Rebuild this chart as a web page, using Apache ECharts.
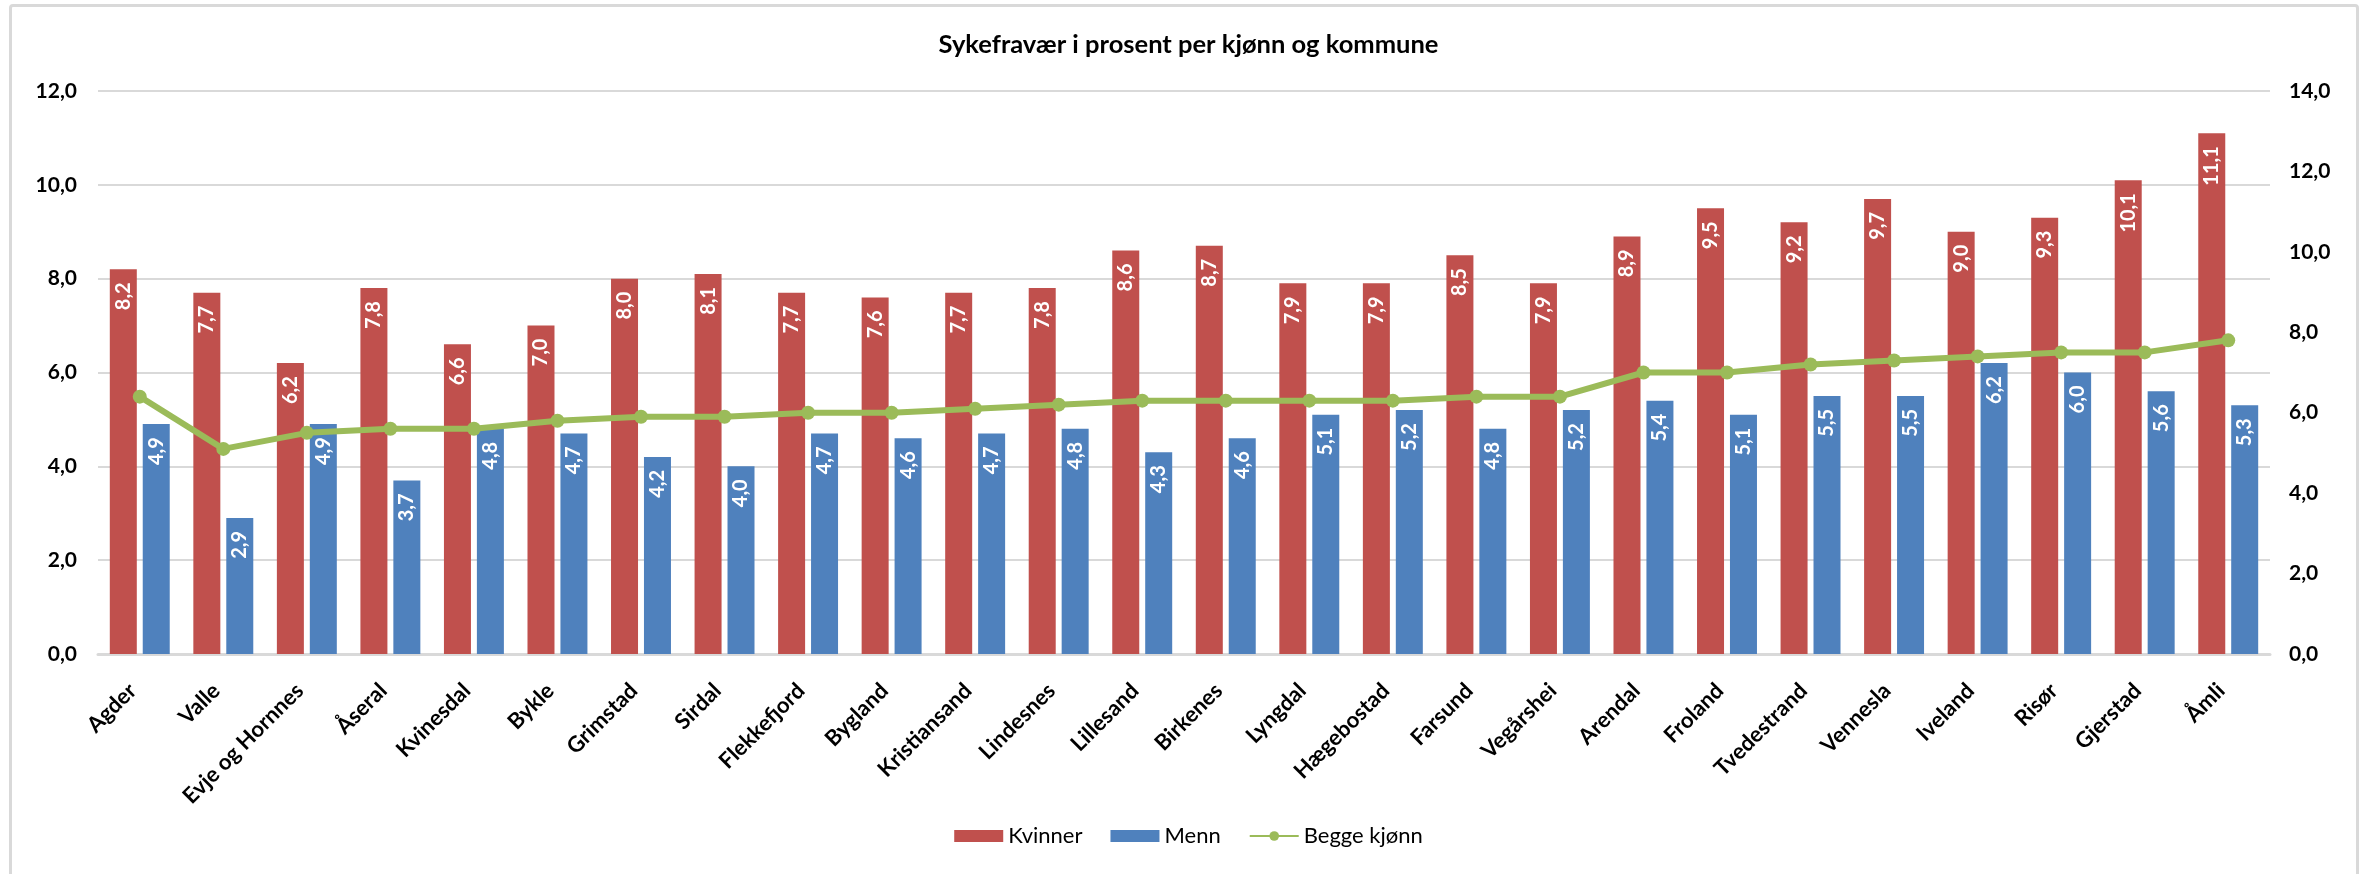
<!DOCTYPE html>
<html>
<head>
<meta charset="utf-8">
<script src="https://cdn.jsdelivr.net/npm/echarts@6/dist/echarts.min.js"></script>
<style>
    html, body { margin: 0; padding: 0; background: #fff; }
    #frame {
        position: absolute; left: 9px; top: 4px; width: 2350px; height: 880px;
        border: 3px solid #d9d9d9; border-radius: 4px; box-sizing: border-box;
    }
    #chart { position: absolute; left: 0; top: 0; width: 2377px; height: 874px; }
</style>
</head>
<body>
<div id="frame"></div>
<div id="chart"></div>
<script>
// data ==========================================
const kommuner = ['Agder', 'Valle', 'Evje og Hornnes', 'Åseral', 'Kvinesdal', 'Bykle', 'Grimstad', 'Sirdal',
    'Flekkefjord', 'Bygland', 'Kristiansand', 'Lindesnes', 'Lillesand', 'Birkenes', 'Lyngdal', 'Hægebostad',
    'Farsund', 'Vegårshei', 'Arendal', 'Froland', 'Tvedestrand', 'Vennesla', 'Iveland', 'Risør', 'Gjerstad', 'Åmli'];
const kvinner = [8.2, 7.7, 6.2, 7.8, 6.6, 7.0, 8.0, 8.1, 7.7, 7.6, 7.7, 7.8, 8.6, 8.7, 7.9, 7.9, 8.5, 7.9,
    8.9, 9.5, 9.2, 9.7, 9.0, 9.3, 10.1, 11.1];
const menn = [4.9, 2.9, 4.9, 3.7, 4.8, 4.7, 4.2, 4.0, 4.7, 4.6, 4.7, 4.8, 4.3, 4.6, 5.1, 5.2, 4.8, 5.2,
    5.4, 5.1, 5.5, 5.5, 6.2, 6.0, 5.6, 5.3];
const beggeKjonn = [6.4, 5.1, 5.5, 5.6, 5.6, 5.8, 5.9, 5.9, 6.0, 6.0, 6.1, 6.2, 6.3, 6.3, 6.3, 6.3, 6.4, 6.4,
    7.0, 7.0, 7.2, 7.3, 7.4, 7.5, 7.5, 7.8];

const FONT = 'Lato, "Open Sans", sans-serif';
const fmt = v => (typeof v === 'object' ? v.value : v).toFixed(1).replace('.', ',');

// etikett inne i søylen, rotert
function barLabel() {
    return {
        show: true,
        position: 'insideTop',
        rotate: 90,
        align: 'right',
        verticalAlign: 'middle',
        distance: 13,
        color: '#fff',
        fontFamily: FONT,
        fontWeight: 'bold',
        fontSize: 20,
        formatter: p => fmt(p.value)
    };
}

const chart = echarts.init(document.getElementById('chart'));
chart.setOption({
    animation: false,
    title: {
        text: 'Sykefravær i prosent per kjønn og kommune',
        left: 'center',
        top: 27,
        textStyle: { fontFamily: FONT, fontWeight: 'bold', fontSize: 25.5, color: '#000' }
    },
    legend: {
        bottom: 22,
        left: 'center',
        itemWidth: 49,
        itemHeight: 12,
        itemGap: 28,
        textStyle: { fontFamily: FONT, fontSize: 22, color: '#000' },
        data: [
            { name: 'Kvinner', icon: 'rect' },
            { name: 'Menn', icon: 'rect' },
            { name: 'Begge kjønn' }
        ]
    },
    grid: { left: 98, right: 107, top: 91, bottom: 220 },
    xAxis: {
        type: 'category',
        data: kommuner,
        axisTick: { show: false },
        axisLine: { lineStyle: { color: '#d9d9d9', width: 3 } },
        axisLabel: {
            interval: 0,
            rotate: 45,
            margin: 26,
            padding: [0, 10, 0, 0],
            color: '#000',
            fontFamily: FONT,
            fontWeight: 'bold',
            fontSize: 22
        }
    },
    yAxis: [
        {
            type: 'value',
            min: 0, max: 12, interval: 2,
            axisLine: { show: false },
            axisTick: { show: false },
            splitLine: { lineStyle: { color: '#d9d9d9', width: 2 } },
            axisLabel: { formatter: v => fmt(v), color: '#000', fontFamily: FONT, fontWeight: 'bold', fontSize: 21, margin: 21 }
        },
        {
            type: 'value',
            min: 0, max: 14, interval: 2,
            axisLine: { show: false },
            axisTick: { show: false },
            splitLine: { show: false },
            axisLabel: { formatter: v => fmt(v), color: '#000', fontFamily: FONT, fontWeight: 'bold', fontSize: 21, margin: 19 }
        }
    ],
    series: [
        {
            name: 'Kvinner',
            type: 'bar',
            data: kvinner,
            barWidth: 27,
            barGap: '22%',
            itemStyle: { color: '#C0504D' },
            label: barLabel()
        },
        {
            name: 'Menn',
            type: 'bar',
            data: menn,
            barWidth: 27,
            itemStyle: { color: '#4F81BD' },
            label: barLabel()
        },
        {
            name: 'Begge kjønn',
            type: 'line',
            yAxisIndex: 1,
            data: beggeKjonn,
            symbol: 'circle',
            symbolSize: 14,
            itemStyle: { color: '#9BBB59' },
            lineStyle: { color: '#9BBB59', width: 6 }
        }
    ]
});
</script>
</body>
</html>
